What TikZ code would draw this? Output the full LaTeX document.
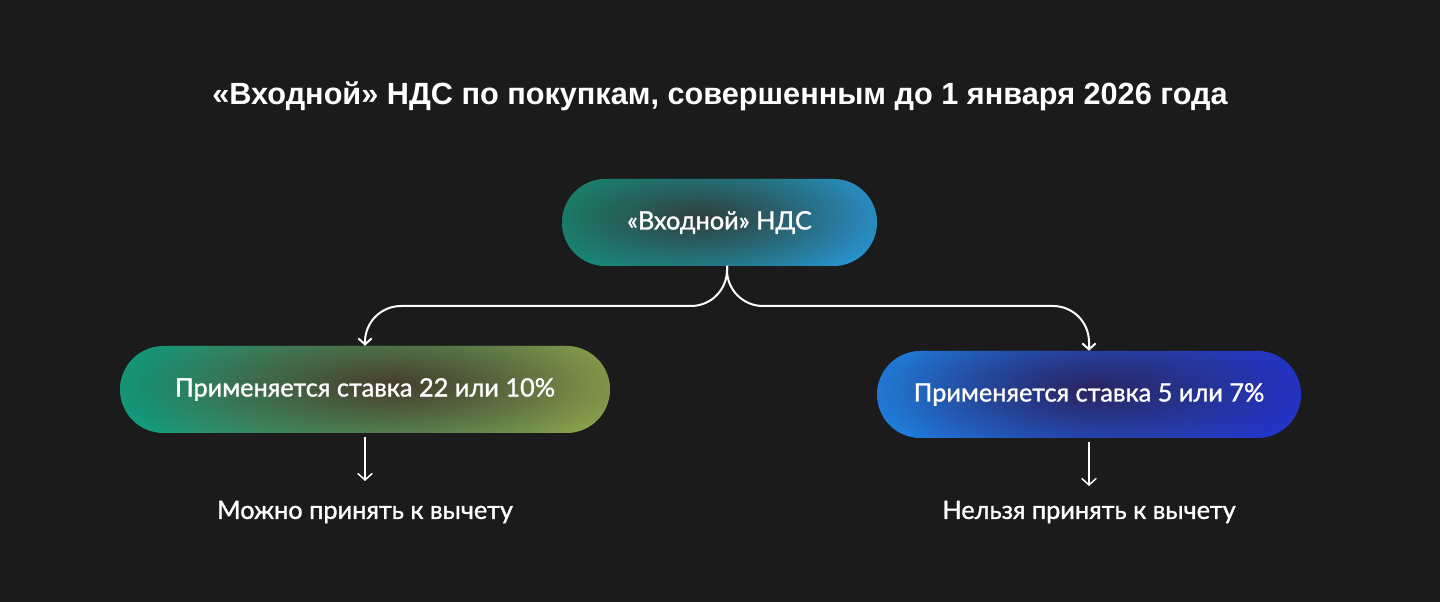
\documentclass[tikz,border=0pt]{standalone}
\usepackage{fontspec}
\setmainfont{Lato}[FakeBold=1.2]
\newfontfamily\titlefont{Liberation Sans}
\usetikzlibrary{fadings,arrows.meta}
\definecolor{bg}{HTML}{1B1B1B}
\definecolor{tealA}{HTML}{10A085}
\definecolor{blueA}{HTML}{28A0E4}
\definecolor{glowA}{HTML}{2F3F3D}
\definecolor{tealB}{HTML}{10A082}
\definecolor{greenB}{HTML}{98B855}
\definecolor{glowB}{HTML}{463E2C}
\definecolor{blueC}{HTML}{1E8AEC}
\definecolor{indigoC}{HTML}{2238E0}
\definecolor{glowC}{HTML}{2A2460}
\tikzfading[name=glowfade, inner color=transparent!0, outer color=transparent!100]
\tikzset{
  pill/.style={rectangle, rounded corners=32.6pt, minimum height=65.25pt,
    inner sep=0pt, text=white, font=\fontsize{19}{22}\selectfont},
  conn/.style={white, line width=1.5pt, rounded corners=27pt,
    -{Straight Barb[length=4.5pt,width=10pt]}},
  down/.style={white, line width=1.1pt,
    -{Straight Barb[length=5pt,width=11pt]}},
  lbl/.style={text=white, font=\fontsize{19}{22}\selectfont},
}
\begin{document}
\begin{tikzpicture}[x=0.75pt,y=-0.75pt]
\fill[bg] (0,0) rectangle (1440,602);
\useasboundingbox (0,0) rectangle (1440,602);

\node[text=white, font=\titlefont\bfseries\fontsize{23}{27}\selectfont] (title) at (720,96)
  {«Входной» НДС по покупкам, совершенным до 1 января 2026 года};

\node[pill, minimum width=236.25pt, path picture={
    \shade[left color=tealA, right color=blueA, shading angle=70]
      (path picture bounding box.south west) rectangle (path picture bounding box.north east);
    \fill[glowA, path fading=glowfade]
      ([xshift=-15pt,yshift=4pt]path picture bounding box.center) ellipse [x radius=170pt, y radius=60pt];
  }] (top) at (719.5,222.5) {«Входной» НДС};

\node[pill, minimum width=367.5pt, path picture={
    \shade[left color=tealB, right color=greenB, shading angle=80]
      (path picture bounding box.south west) rectangle (path picture bounding box.north east);
    \fill[glowB, path fading=glowfade]
      ([xshift=20pt,yshift=4pt]path picture bounding box.center) ellipse [x radius=230pt, y radius=64pt];
  }] (left) at (365,389.5) {Применяется ставка 22 или 10\%};

\node[pill, minimum width=318pt, path picture={
    \shade[left color=blueC, right color=indigoC, shading angle=80]
      (path picture bounding box.south west) rectangle (path picture bounding box.north east);
    \fill[glowC, path fading=glowfade]
      ([xshift=5pt,yshift=4pt]path picture bounding box.center) ellipse [x radius=200pt, y radius=64pt];
  }] (right) at (1089,394.5) {Применяется ставка 5 или 7\%};

\coordinate (split) at (727,266);
\draw[conn] (split) -- (727,306) -| (left.north);
\draw[conn] (split) -- (727,306) -| (right.north);

\node[lbl] (yes) at (365,512) {Можно принять к вычету};
\node[lbl] (no) at (1089,512) {Нельзя принять к вычету};

\coordinate (ya) at (365,437);
\coordinate (yb) at (365,481);
\coordinate (na) at (1089,442);
\coordinate (nb) at (1089,486);
\draw[down] (ya) -- (yb);
\draw[down] (na) -- (nb);
\end{tikzpicture}
\end{document}
